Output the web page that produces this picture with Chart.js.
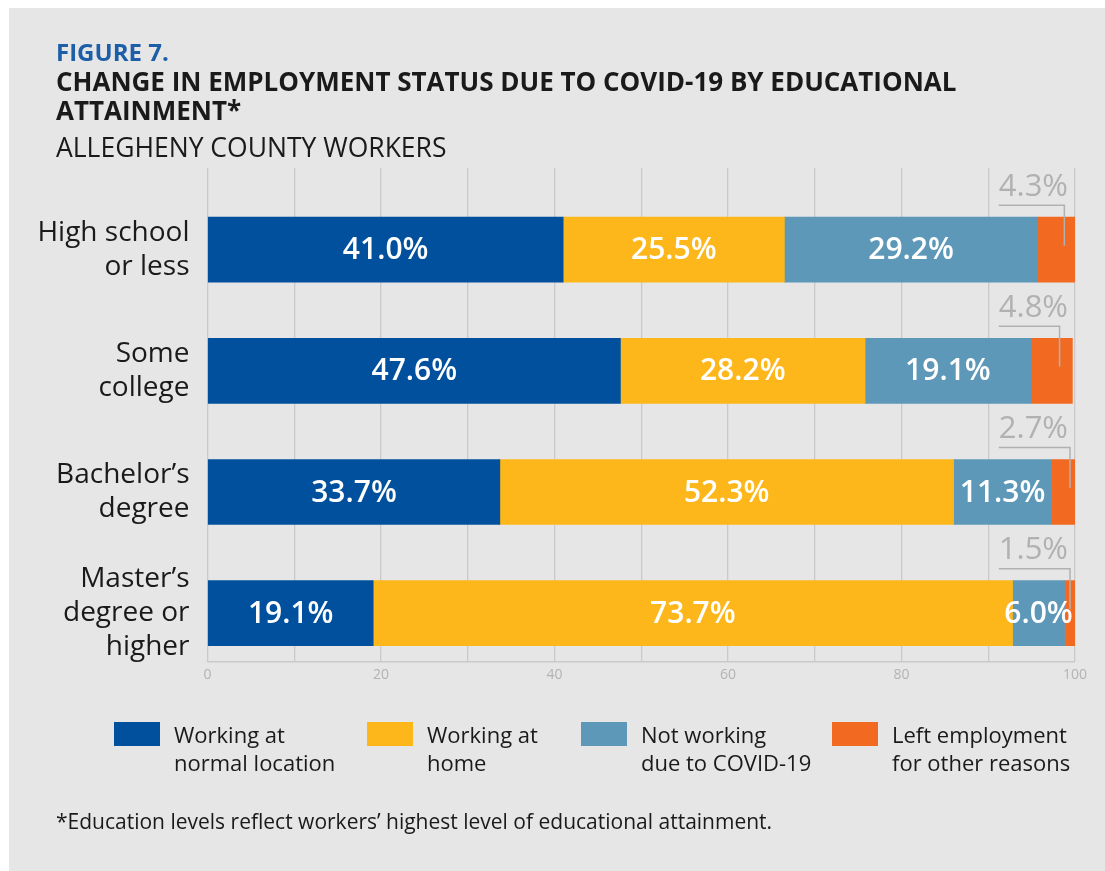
<!DOCTYPE html>
<html>
<head>
<meta charset="utf-8">
<script src="https://cdn.jsdelivr.net/npm/chart.js@4.4.1/dist/chart.umd.min.js"></script>
<style>
  html, body { margin: 0; padding: 0; background: #ffffff; }
  body { width: 1105px; height: 871px; position: relative; overflow: hidden; font-family: "Open Sans", sans-serif; }
  #panel { position: absolute; left: 9px; top: 8px; right: 0; bottom: 0; background: #e6e6e6; }
  #chart-wrap { position: absolute; left: 0; top: 0; width: 1105px; height: 871px; }
  .txt { position: absolute; white-space: nowrap; color: #1a1a1a; }
  #fig { left: 56px; top: 35px; font-size: 24px; font-weight: 700; color: #1c5ea8; }
  #title { left: 56px; top: 67px; font-size: 26px; font-weight: 700; line-height: 29px; }
  #subtitle { left: 56px; top: 129px; font-size: 26.5px; font-weight: 400; }
  #note { left: 56px; top: 807px; font-size: 21px; }
  .legend-item { position: absolute; top: 722px; }
  .legend-item .sw { position: absolute; left: 0; top: 0; width: 46px; height: 24px; }
  .legend-item .lb { position: absolute; left: 60px; top: -2px; font-size: 22px; line-height: 28px; color: #1a1a1a; white-space: nowrap; }
</style>
</head>
<body>
<div id="panel"></div>
<div id="chart-wrap"><canvas id="chart-edu"></canvas></div>
<div class="txt" id="fig">FIGURE 7.</div>
<div class="txt" id="title">CHANGE IN EMPLOYMENT STATUS DUE TO COVID-19 BY EDUCATIONAL<br>ATTAINMENT*</div>
<div class="txt" id="subtitle">ALLEGHENY COUNTY WORKERS</div>
<div id="legend"></div>
<div class="txt" id="note">*Education levels reflect workers’ highest level of educational attainment.</div>

<script>
// education levels, top to bottom
const levels = [
  ["High school", "or less"],
  ["Some", "college"],
  ["Bachelor’s", "degree"],
  ["Master’s", "degree or", "higher"]
];

const seriesNames = [
  ["Working at", "normal location"],
  ["Working at", "home"],
  ["Not working", "due to COVID-19"],
  ["Left employment", "for other reasons"]
];

const normalLocation = [41.0, 47.6, 33.7, 19.1];
const atHome         = [25.5, 28.2, 52.3, 73.7];
const covidStopped   = [29.2, 19.1, 11.3, 6.0];
const leftOther      = [4.3, 4.8, 2.7, 1.5];

const xTicks = [0, 10, 20, 30, 40, 50, 60, 70, 80, 90, 100];

const seriesColors = ["#00509e", "#fdb71a", "#5e98b9", "#f26a22"];
const seriesValues = [normalLocation, atHome, covidStopped, leftOther];

// html legend, built from the series lists
const legendX = [114, 367, 581, 832];
const legendEl = document.getElementById("legend");
seriesNames.forEach((name, i) => {
  const item = document.createElement("div");
  item.className = "legend-item";
  item.style.left = legendX[i] + "px";
  item.innerHTML = '<div class="sw" style="background:' + seriesColors[i] + '"></div>' +
    '<div class="lb">' + name.join("<br>") + '</div>';
  legendEl.appendChild(item);
});

// value labels: white inside the bars, grey with a leader line for the last series
const barLabels = {
  id: "barLabels",
  afterDatasetsDraw(chart) {
    const ctx = chart.ctx;
    const area = chart.chartArea;
    const last = chart.data.datasets.length - 1;
    ctx.save();
    chart.data.datasets.forEach((ds, di) => {
      const meta = chart.getDatasetMeta(di);
      meta.data.forEach((bar, i) => {
        const v = ds.data[i].x;
        const text = v.toFixed(1) + "%";
        if (di < last) {
          ctx.font = "600 30px 'Open Sans'";
          ctx.fillStyle = "#ffffff";
          ctx.textAlign = "center";
          ctx.textBaseline = "middle";
          ctx.fillText(text, (bar.base + bar.x) / 2, bar.y + 1);
        } else {
          const top = bar.y - bar.height / 2;
          ctx.font = "400 31px 'Open Sans'";
          ctx.fillStyle = "#b1b1b1";
          ctx.textAlign = "right";
          ctx.textBaseline = "middle";
          const right = area.right - 7;
          ctx.fillText(text, right, top - 30);
          const w = ctx.measureText(text).width;
          const lx = Math.min((bar.base + bar.x) / 2 + 8, area.right - 5);
          ctx.strokeStyle = "#b1b1b1";
          ctx.lineWidth = 1.5;
          ctx.beginPath();
          ctx.moveTo(right - w, top - 12);
          ctx.lineTo(lx, top - 12);
          ctx.lineTo(lx, bar.y - 4);
          ctx.stroke();
        }
      });
    });
    ctx.restore();
  }
};

const ctx = document.getElementById("chart-edu").getContext("2d");
new Chart(ctx, {
  type: "bar",
  data: {
    datasets: seriesValues.map((vals, si) => ({
      label: seriesNames[si].join(" "),
      data: vals.map((v, i) => ({ x: v, y: i })),
      backgroundColor: seriesColors[si],
      borderWidth: 0,
      barThickness: 65
    }))
  },
  options: {
    indexAxis: "y",
    responsive: true,
    maintainAspectRatio: false,
    animation: false,
    layout: { padding: { top: 168, right: 30, bottom: 180, left: 0 } },
    plugins: {
      legend: { display: false },
      tooltip: { enabled: false }
    },
    scales: {
      x: {
        type: "linear",
        stacked: true,
        min: 0,
        max: 100,
        afterBuildTicks: scale => { scale.ticks = xTicks.map(v => ({ value: v })); },
        afterFit: scale => { scale.height = 29; },
        grid: { color: "#cacaca", lineWidth: 1.3, drawTicks: false },
        border: { color: "#cacaca", width: 1.5 },
        ticks: {
          padding: 5,
          color: "#b3b3b3",
          font: { family: "Open Sans", size: 14 },
          callback: v => (v % 20 === 0 ? v : "")
        }
      },
      y: {
        type: "linear",
        stacked: true,
        reverse: true,
        offset: false,
        min: -0.674,
        max: 3.403,
        afterBuildTicks: scale => { scale.ticks = levels.map((_, i) => ({ value: i })); },
        afterFit: scale => { scale.width = 207.5; },
        grid: { display: false, offset: false },
        border: { display: false },
        ticks: {
          padding: 10,
          color: "#1a1a1a",
          font: { family: "Open Sans", size: 28, lineHeight: 1.22 },
          callback: (v, i) => levels[i]
        }
      }
    }
  },
  plugins: [barLabels]
});
</script>
</body>
</html>
